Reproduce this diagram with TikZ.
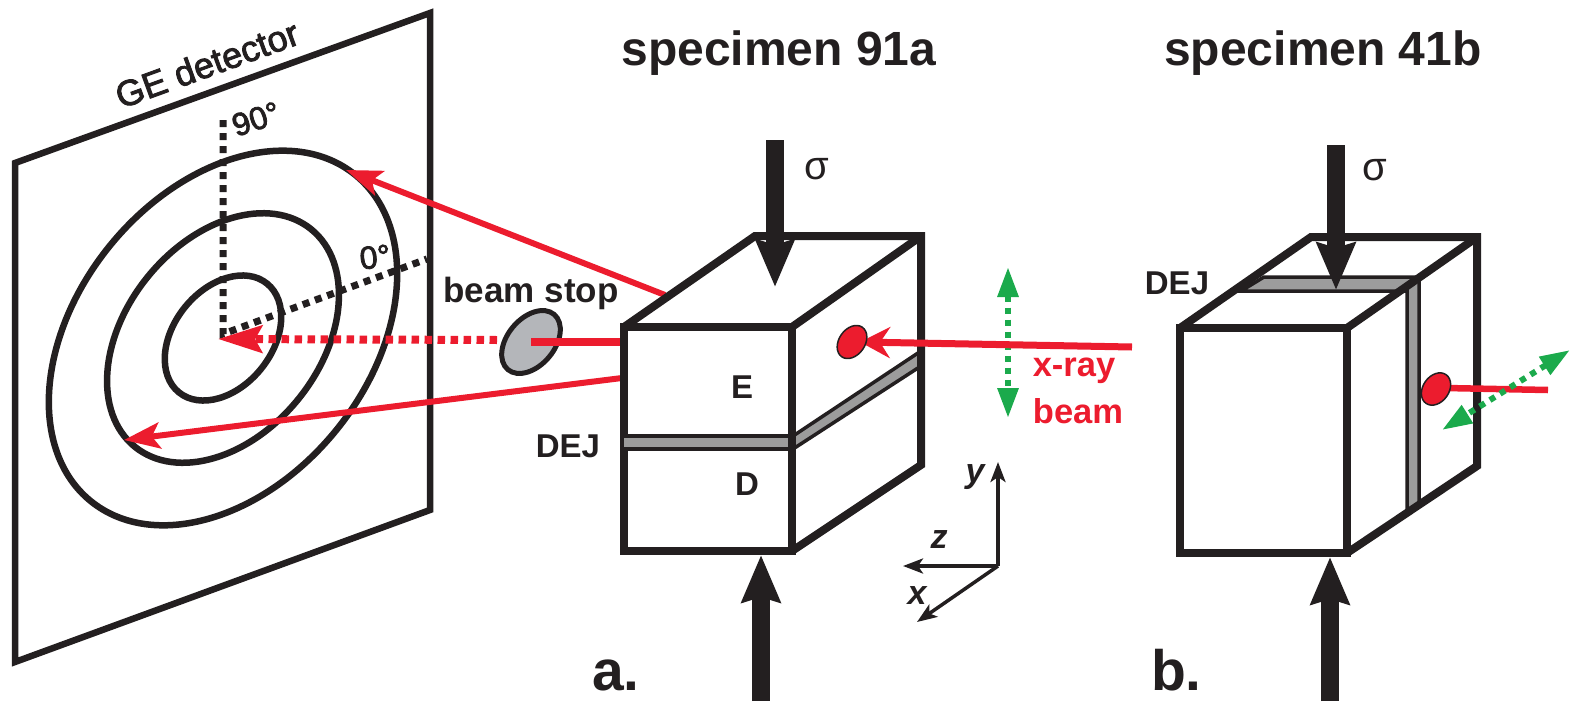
\documentclass[tikz,border=0pt]{standalone}
\usepackage{fontspec}
\setmainfont{Liberation Sans}
\newfontfamily\semifont[FakeBold=2.5]{Liberation Sans}
\usetikzlibrary{arrows.meta,shapes.geometric}
\definecolor{ink}{HTML}{231F20}
\definecolor{xred}{HTML}{EC1C2E}
\definecolor{xgreen}{HTML}{1BAA4C}
\definecolor{bandgray}{HTML}{9C9C9C}
\definecolor{stopgray}{HTML}{B4B6BA}
\tikzset{
  lbl/.style={inner sep=0pt,outer sep=0pt,text=ink},
  bigtitle/.style={lbl,font=\bfseries\fontsize{48}{50}\selectfont},
  panel/.style={lbl,anchor=base west,font=\bfseries\fontsize{57}{60}\selectfont},
  boldlbl/.style={lbl,font=\bfseries\fontsize{33}{36}\selectfont},
  stoplbl/.style={lbl,font=\bfseries\fontsize{35}{38}\selectfont},
  reglbl/.style={lbl,font=\semifont\fontsize{36}{40}\selectfont},
  anglelbl/.style={lbl,font=\semifont\fontsize{32}{36}\selectfont},
  sigmalbl/.style={lbl,font=\fontsize{40}{44}\selectfont},
  axislbl/.style={lbl,font=\bfseries\itshape\fontsize{34}{36}\selectfont},
  redlbl/.style={lbl,text=xred,font=\bfseries\fontsize{34.5}{36}\selectfont},
  frameline/.style={draw=ink,line width=6.5pt,line join=miter},
  ring/.style={draw=ink,line width=6.5pt},
  cubeline/.style={draw=ink,line width=8pt,line join=miter},
  bandline/.style={draw=ink,line width=3.5pt,fill=bandgray,line join=miter},
  blackdots/.style={draw=ink,line width=7pt,dash pattern=on 7pt off 6pt},
  redray/.style={draw=xred,line width=6pt,-{Stealth[length=36pt,width=26pt,inset=8pt]}},
  reddots/.style={draw=xred,line width=8pt,dash pattern=on 7.5pt off 5.5pt,-{Stealth[length=44pt,width=27pt,inset=7pt]}},
  redsolid/.style={draw=xred,line width=7.5pt},
  incident/.style={draw=xred,line width=7pt,-{Stealth[length=30pt,width=31pt,inset=10pt]}},
  greendots/.style={draw=xgreen,line width=6pt,dash pattern=on 6pt off 6pt,
    {Stealth[length=30pt,width=20pt,inset=0pt]}-{Stealth[length=30pt,width=20pt,inset=0pt]}},
  load/.style={draw=ink,line width=17.5pt,-{Stealth[length=47pt,width=38pt,inset=5pt]}},
  axisline/.style={draw=ink,line width=3.5pt,-{Stealth[length=20pt,width=15pt,inset=5pt]}},
  spot/.style={ellipse,draw=ink,line width=1.5pt,fill=xred,inner sep=0pt},
}
\begin{document}
\begin{tikzpicture}[x=1pt,y=-1pt]
\useasboundingbox (0,0) rectangle (1570,701);
% detector
\coordinate (d1) at (15,163);
\coordinate (d2) at (430,13);
\coordinate (d3) at (430,510);
\coordinate (d4) at (15,662);
\draw[frameline] (d1) -- (d2) -- (d3) -- (d4) -- cycle;
\coordinate (rc) at (223,338);
\draw[ring,shift={(rc)},rotate=51] (0,0) ellipse [x radius=210,y radius=146];
\draw[ring,shift={(rc)},rotate=51] (0,0) ellipse [x radius=140,y radius=97];
\draw[ring,shift={(rc)},rotate=51] (0,0) ellipse [x radius=70,y radius=49];
% angle axes
\coordinate (o) at (223,334);
\coordinate (a90) at (223,120);
\coordinate (a0) at (427,259);
\draw[blackdots] (a90) -- (o) -- (a0);
\node[reglbl,rotate=20] (ge) at (207,64) {GE detector};
\node[anglelbl,rotate=18] (t90) at (256,119) {90°};
\node[anglelbl,rotate=6] (t0) at (375,257) {0°};
% beam stop and diffracted rays
\coordinate (uo) at (665,295);
\coordinate (ut) at (346,170);
\coordinate (lo) at (622,378);
\coordinate (lt) at (124,440);
\draw[redray] (uo) -- (ut);
\draw[redray] (lo) -- (lt);
\coordinate (dotstart) at (497,340);
\coordinate (dottip) at (218,339);
\draw[reddots] (dotstart) -- (dottip);
\node[ellipse,draw=ink,line width=5pt,fill=stopgray,rotate=50,minimum width=72pt,minimum height=47pt,inner sep=0pt] (stop) at (531,342) {};
\node[stoplbl] (bs) at (531,293) {beam stop};
% specimen a
\coordinate (af1) at (624,327);
\coordinate (af2) at (792,327);
\coordinate (af3) at (792,551);
\coordinate (af4) at (624,551);
\coordinate (ab1) at (755,236);
\coordinate (ab2) at (921,236);
\coordinate (ab2i) at (917,239);
\coordinate (ab3) at (921,465);
\coordinate (ag1) at (622,436);
\coordinate (ag2) at (793,436);
\coordinate (ag3) at (793,449);
\coordinate (ag4) at (622,449);
\coordinate (ag5) at (921,351);
\coordinate (ag6) at (921,366);
\draw[bandline] (ag2) -- (ag5) -- (ag6) -- (ag3) -- cycle;
\draw[cubeline] (af1) -- (af2) -- (af3) -- (af4) -- cycle;
\draw[cubeline] (af1) -- (ab1) -- (ab2) -- (ab3) -- (af3);
\draw[cubeline] (af2) -- (ab2i);
\draw[bandline] (ag1) -- (ag2) -- (ag3) -- (ag4) -- cycle;
\coordinate (ag7) at (792,431);
\coordinate (ag8) at (792,455);
\draw[cubeline] (ag7) -- (ag8);
\coordinate (sb1) at (620,342);
\draw[redsolid] (stop.center) -- (sb1);
\node[boldlbl] (e) at (742,387) {E};
\node[boldlbl] (dd) at (747,484) {D};
\node[boldlbl] (deja) at (568,446) {DEJ};
\coordinate (la0) at (775,140);
\coordinate (la1) at (775,287);
\draw[load] (la0) -- (la1);
\coordinate (la2) at (761,701);
\coordinate (la3) at (761,555);
\draw[load] (la2) -- (la3);
\node[sigmalbl] (sa) at (817,169) {σ};
% beam a
\coordinate (ga0) at (1008,267);
\coordinate (ga1) at (1008,418);
\draw[greendots] (ga0) -- (ga1);
\coordinate (ib0) at (1132,347);
\coordinate (ib1) at (860,342);
\draw[incident] (ib0) -- (ib1);
\node[spot,rotate=55,minimum width=36pt,minimum height=26pt] (sp1) at (852,342) {};
\node[redlbl] (xr) at (1074,371) {x-ray};
\node[redlbl] (bm) at (1078,411) {beam};
% axes
\coordinate (ao) at (998,566);
\coordinate (ay) at (998,462);
\coordinate (az) at (903,566);
\coordinate (ax) at (917,622);
\draw[axisline] (ao) -- (ay);
\draw[axisline] (ao) -- (az);
\draw[axisline] (ao) -- (ax);
\node[axislbl] (ty) at (975,477) {y};
\node[axislbl] (tz) at (939,540) {z};
\node[axislbl] (tx) at (917,596) {x};
% specimen b
\coordinate (bf1) at (1180,328);
\coordinate (bf2) at (1347,328);
\coordinate (bf3) at (1347,553);
\coordinate (bf4) at (1180,553);
\coordinate (bb1) at (1311,237);
\coordinate (bb2) at (1477,237);
\coordinate (bb2i) at (1473,240);
\coordinate (bb3) at (1477,466);
\coordinate (bg1) at (1264,277);
\coordinate (bg2) at (1419,277);
\coordinate (bg3) at (1419,505);
\coordinate (bg4) at (1407,513);
\coordinate (bg5) at (1407,291);
\coordinate (bg6) at (1241,291);
\draw[bandline] (bg1) -- (bg2) -- (bg3) -- (bg4) -- (bg5) -- (bg6) -- cycle;
\draw[cubeline] (bf1) -- (bf2) -- (bf3) -- (bf4) -- cycle;
\draw[cubeline] (bf1) -- (bb1) -- (bb2) -- (bb3) -- (bf3);
\draw[cubeline] (bf2) -- (bb2i);
\coordinate (lb0) at (1336,145);
\coordinate (lb1) at (1336,290);
\draw[load] (lb0) -- (lb1);
\coordinate (lb2) at (1330,701);
\coordinate (lb3) at (1330,557);
\draw[load] (lb2) -- (lb3);
\node[sigmalbl] (sb) at (1375,170) {σ};
\node[boldlbl] (dejb) at (1177,283) {DEJ};
\coordinate (rb0) at (1548,390);
\coordinate (rb1) at (1445,388);
\draw[draw=xred,line width=6.5pt] (rb0) -- (rb1);
\node[spot,rotate=55,minimum width=35pt,minimum height=26pt] (sp2) at (1436,389) {};
\coordinate (gb0) at (1570,350);
\coordinate (gb1) at (1442,430);
\draw[greendots] (gb0) -- (gb1);
% titles
\node[bigtitle] (t1) at (779,53) {specimen 91a};
\node[bigtitle] (t2) at (1323,53) {specimen 41b};
\node[panel] (pa) at (592,690) {a.};
\node[panel] (pb) at (1151,690) {b.};
\end{tikzpicture}
\end{document}
